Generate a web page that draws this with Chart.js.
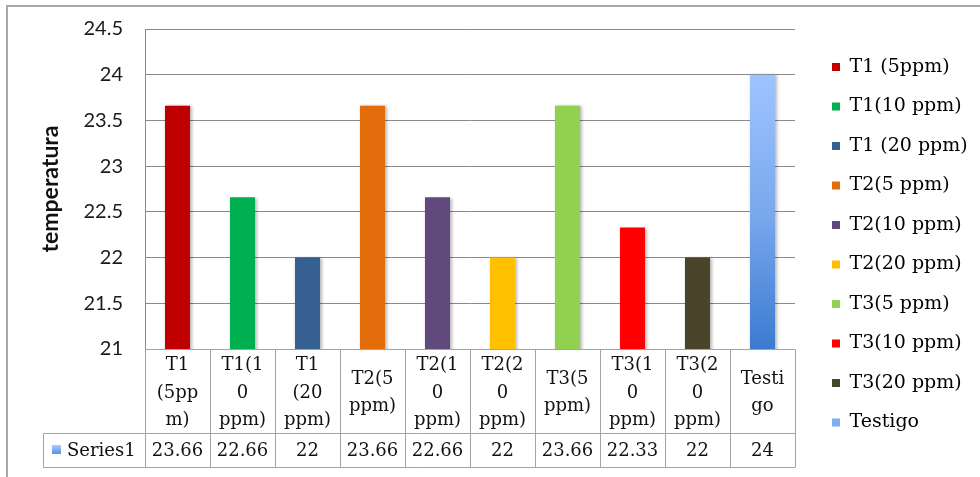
<!DOCTYPE html>
<html>
<head>
<meta charset="utf-8">
<style>
  html, body { margin: 0; padding: 0; background: #fff; }
  #wrap { position: relative; width: 980px; height: 477px; }
</style>
<script src="https://cdn.jsdelivr.net/npm/chart.js@4/dist/chart.umd.min.js"></script>
</head>
<body>
<div id="wrap"><canvas id="chart" width="980" height="477"></canvas></div>
<script>
// Treatments (legend text) and the wrapped text shown in the data table
const categories = ['T1 (5ppm)', 'T1(10 ppm)', 'T1 (20 ppm)', 'T2(5 ppm)', 'T2(10 ppm)',
  'T2(20 ppm)', 'T3(5 ppm)', 'T3(10 ppm)', 'T3(20 ppm)', 'Testigo'];
const tableLabels = [
  ['T1', '(5pp', 'm)'], ['T1(1', '0', 'ppm)'], ['T1', '(20', 'ppm)'], ['T2(5', 'ppm)'],
  ['T2(1', '0', 'ppm)'], ['T2(2', '0', 'ppm)'], ['T3(5', 'ppm)'], ['T3(1', '0', 'ppm)'],
  ['T3(2', '0', 'ppm)'], ['Testi', 'go']
];
const seriesName = 'Series1';
const series1 = [23.66, 22.66, 22, 23.66, 22.66, 22, 23.66, 22.33, 22, 24];
const yTicks = { min: 21, max: 24.5, step: 0.5 };
const barColors = ['#C00000', '#00B050', '#376092', '#E46C0A', '#604A7B',
  '#FFC000', '#92D050', '#FF0000', '#4A452A', '#7EAEF5'];

const SERIF = '"DejaVu Serif", serif';
const SANS = 'Lato, "Open Sans", sans-serif';
const GRID = '#8a8a8a';
const TABLE_LINE = '#a3a3a3';

function barFill(ctx) {
  const i = ctx.dataIndex;
  if (i !== 9) return barColors[i];
  const chart = ctx.chart;
  const area = chart.chartArea;
  if (!area || !chart.scales.y) return barColors[i];
  const top = chart.scales.y.getPixelForValue(series1[i]);
  const g = chart.ctx.createLinearGradient(0, top, 0, area.bottom);
  g.addColorStop(0, '#9EC4FF');
  g.addColorStop(0.5, '#7AA9EE');
  g.addColorStop(1, '#3B7BD0');
  return g;
}

// outer frame, soft bar shadow, legend placement, data table
const framePlugin = {
  id: 'frame',
  beforeDraw(chart) {
    const c = chart.ctx;
    c.save();
    c.strokeStyle = '#a8a8a8';
    c.lineWidth = 2;
    c.beginPath();
    c.moveTo(7, 477);
    c.lineTo(7, 6);
    c.lineTo(980, 6);
    c.stroke();
    c.restore();
  }
};

const shadowPlugin = {
  id: 'barShadow',
  beforeDatasetsDraw(chart) {
    const c = chart.ctx;
    c.save();
    c.shadowColor = 'rgba(0,0,0,0.28)';
    c.shadowBlur = 3;
    c.shadowOffsetX = 1.5;
    c.shadowOffsetY = 0.5;
  },
  afterDatasetsDraw(chart) {
    chart.ctx.restore();
  }
};

// legend column: key squares start at x = 832, first row centred at y = 67
const legendPlace = {
  id: 'legendPlace',
  afterLayout(chart) {
    const lg = chart.legend;
    if (!lg) return;
    const lab = lg.options.labels;
    const pad = lab.padding;
    const ih = Math.max(lab.font.size, lab.boxHeight);
    const colH = categories.length * (ih + pad);
    const H = 450;
    const y0 = 67 - ih / 2;
    lg.left = 832 - pad;
    lg.right = chart.width;
    lg.width = lg.right - lg.left;
    lg.top = y0 - (pad + H - colH) / 2;
    lg.bottom = lg.top + H;
    lg.height = H;
  }
};

const tablePlugin = {
  id: 'dataTable',
  afterDraw(chart) {
    const c = chart.ctx;
    const x = chart.scales.x;
    const area = chart.chartArea;
    const n = categories.length;
    const step = (x.getPixelForValue(1) - x.getPixelForValue(0));
    const bounds = [];
    for (let i = 0; i <= n; i++) {
      bounds.push(i < n ? x.getPixelForValue(i) - step / 2 : x.getPixelForValue(n - 1) + step / 2);
    }
    const y0 = area.bottom, y1 = y0 + 84, y2 = y1 + 34;
    const labelLeft = 43;
    const px = v => Math.round(v) + 0.5;

    c.save();
    c.strokeStyle = TABLE_LINE;
    c.lineWidth = 1;
    c.beginPath();
    c.moveTo(px(bounds[0]), px(y0)); c.lineTo(px(bounds[n]), px(y0));
    c.moveTo(px(labelLeft), px(y1)); c.lineTo(px(bounds[n]), px(y1));
    c.moveTo(px(labelLeft), px(y2)); c.lineTo(px(bounds[n]), px(y2));
    c.moveTo(px(labelLeft), px(y1)); c.lineTo(px(labelLeft), px(y2));
    bounds.forEach(b => { c.moveTo(px(b), px(y0)); c.lineTo(px(b), px(y2)); });
    c.stroke();

    c.fillStyle = '#111';
    c.font = '18px ' + SERIF;
    c.textAlign = 'center';
    c.textBaseline = 'middle';
    const lh = 27.5;
    tableLabels.forEach((lines, i) => {
      const cx = x.getPixelForValue(i);
      const cy = (y0 + y1) / 2 + 2;
      const start = cy - (lines.length - 1) * lh / 2;
      lines.forEach((t, k) => c.fillText(t, cx, start + k * lh));
    });
    series1.forEach((v, i) => {
      c.fillText(String(v), x.getPixelForValue(i), (y1 + y2) / 2 + 1);
    });

    // series key in the row header
    const ky = (y1 + y2) / 2;
    const g = c.createLinearGradient(0, ky - 5, 0, ky + 5);
    g.addColorStop(0, '#A9CBFF');
    g.addColorStop(1, '#4F8BDD');
    c.fillStyle = g;
    c.fillRect(52, ky - 5, 9, 9);
    c.fillStyle = '#111';
    c.textAlign = 'left';
    c.fillText(seriesName, 67, ky + 1);
    c.restore();
  }
};

new Chart(document.getElementById('chart'), {
  type: 'bar',
  data: {
    labels: categories,
    datasets: [{
      label: seriesName,
      data: series1,
      backgroundColor: barFill,
      borderWidth: 0,
      barPercentage: 0.385,
      categoryPercentage: 1
    }]
  },
  options: {
    responsive: false,
    animation: false,
    layout: { padding: { top: 29, right: 35, bottom: 0, left: 0 } },
    plugins: {
      tooltip: { enabled: false },
      legend: {
        position: 'right',
        maxWidth: 150,
        labels: {
          boxWidth: 8,
          boxHeight: 8,
          padding: 20.5,
          color: '#111',
          font: { family: SERIF, size: 19 },
          generateLabels: () => categories.map((t, i) => ({
            text: t,
            fillStyle: barColors[i],
            strokeStyle: barColors[i],
            lineWidth: 0,
            hidden: false,
            index: i,
            datasetIndex: 0
          }))
        }
      }
    },
    scales: {
      x: {
        grid: { display: false, drawTicks: false },
        border: { display: false },
        ticks: { display: false },
        afterFit(s) { s.height = 128; }
      },
      y: {
        min: yTicks.min,
        max: yTicks.max,
        grid: { color: GRID, drawTicks: false },
        border: { color: GRID },
        ticks: {
          stepSize: yTicks.step,
          padding: 22,
          color: '#1a1a1a',
          font: { family: SANS, size: 20 },
          callback: v => String(Number(v))
        },
        title: {
          display: true,
          text: 'temperatura',
          color: '#111',
          font: { family: SANS, size: 23, weight: 'bold' },
          padding: { top: 37, bottom: 0 }
        },
        afterFit(s) { s.width = 145; s.paddingTop = 0; s.paddingBottom = 0; }
      }
    }
  },
  plugins: [framePlugin, shadowPlugin, legendPlace, tablePlugin]
});
</script>
</body>
</html>
